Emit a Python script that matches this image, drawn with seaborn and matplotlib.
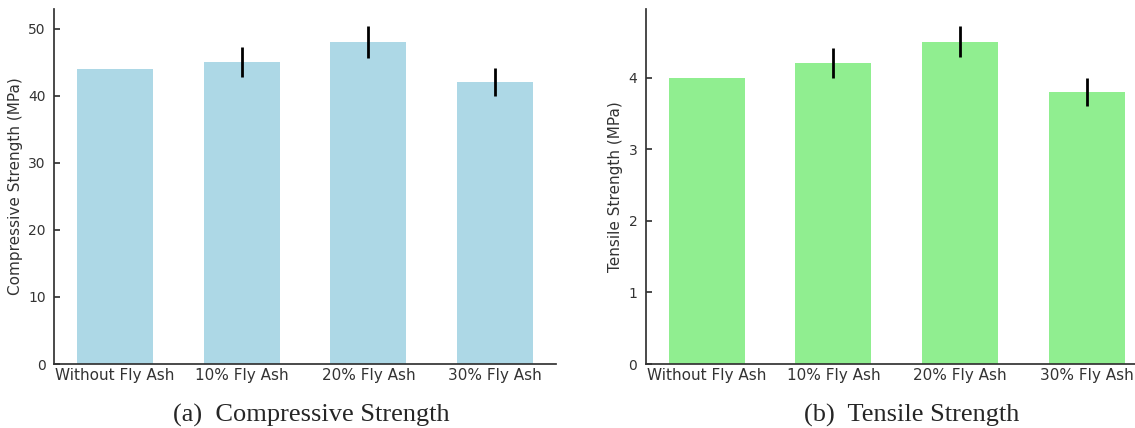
import numpy as np
import pandas as pd
import matplotlib.pyplot as plt
import seaborn as sns

# dados
misturas = ['Without Fly Ash', '10% Fly Ash', '20% Fly Ash', '30% Fly Ash']
compressao = [44, 45, 48, 42]
erro_compressao = [0, 2.2, 2.4, 2.1]
tracao = [4.0, 4.2, 4.5, 3.8]
erro_tracao = [0, 0.21, 0.22, 0.2]

sns.set_theme(style="ticks")
plt.rcParams['font.family'] = ['DejaVu Sans']
plt.rcParams['axes.edgecolor'] = '#333333'
plt.rcParams['xtick.color'] = '#333333'
plt.rcParams['ytick.color'] = '#333333'

fig = plt.figure(figsize=(11.35, 4.28), dpi=100)
ax1 = fig.add_axes([0.0476, 0.1495, 0.4423, 0.8294])
ax2 = fig.add_axes([0.5689, 0.1495, 0.4423, 0.8294])

paineis = [
    (ax1, compressao, erro_compressao, 'lightblue', 'Compressive Strength (MPa)'),
    (ax2, tracao, erro_tracao, 'lightgreen', 'Tensile Strength (MPa)'),
]

for ax, valores, erros, cor, rotulo in paineis:
    df = pd.DataFrame({'mistura': misturas, 'valor': valores})
    sns.barplot(data=df, x='mistura', y='valor', color=cor, saturation=1,
                width=0.6, linewidth=0, errorbar=None, ax=ax)
    ax.errorbar(np.arange(len(misturas)), valores, yerr=erros, fmt='none',
                ecolor='black', elinewidth=2, capsize=0)
    ax.set_xlabel('')
    ax.set_ylabel(rotulo, fontsize=11, color='#333333')
    ax.tick_params(axis='x', direction='in', length=4, labelsize=11, pad=3)
    ax.tick_params(axis='y', direction='in', length=4, labelsize=10, pad=6)
    ax.margins(x=0.05)
    sns.despine(ax=ax)

ax1.set_yticks([0, 10, 20, 30, 40, 50])
ax2.set_yticks([0, 1, 2, 3, 4])

# legendas das figuras (a) e (b)
fig.text(0.274, 0.014, '(a)  Compressive Strength', ha='center', va='baseline',
         fontsize=19, family='Liberation Serif')
fig.text(0.8035, 0.014, '(b)  Tensile Strength', ha='center', va='baseline',
         fontsize=19, family='Liberation Serif')

fig.savefig('out.png', dpi=100)
